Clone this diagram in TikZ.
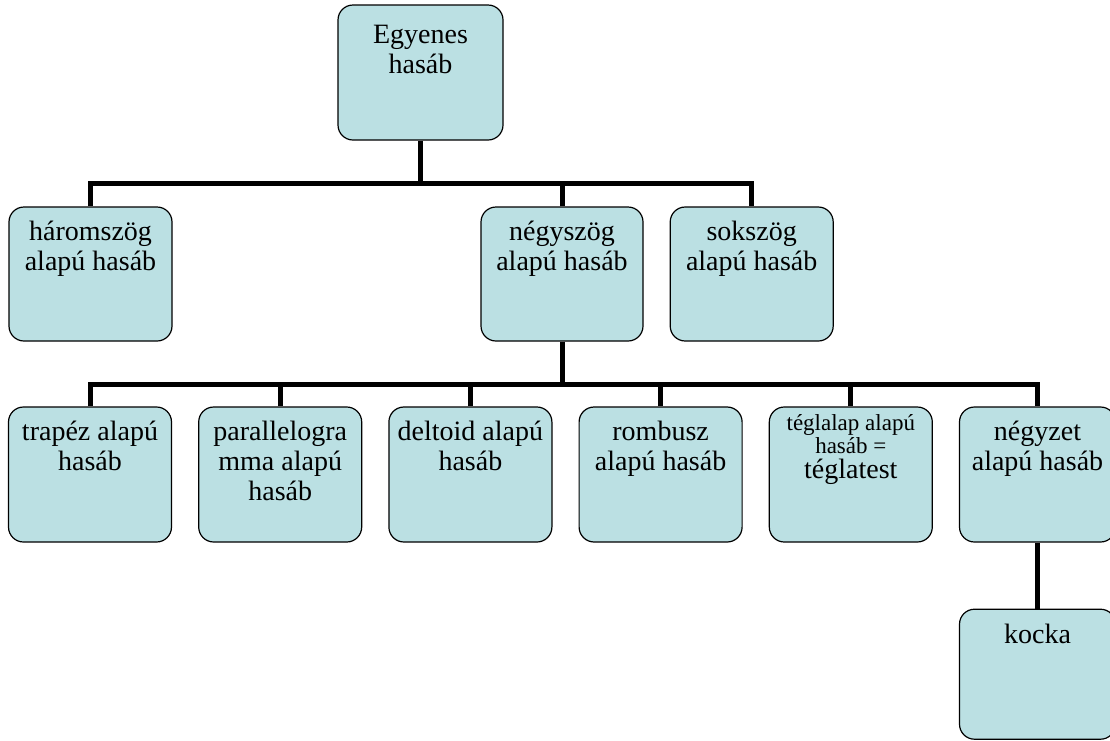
\documentclass[tikz,border=0pt]{standalone}
\usepackage{fontspec}
\setmainfont{Liberation Serif}
\usepackage{tikz}
\usetikzlibrary{positioning}
\definecolor{BoxTeal}{RGB}{187,224,227}

\begin{document}
\begin{tikzpicture}[
    x=1pt, y=-1pt,
    node distance=26pt and 26pt,
    font=\fontsize{28}{30}\selectfont,
    box/.style={draw=black, line width=1.2pt, rounded corners=15pt, fill=BoxTeal,
                minimum width=163pt, minimum height=134pt, inner sep=0pt},
    lbl/.style={anchor=north, yshift=-14pt, inner sep=0pt, align=center,
                execute at begin node=\strut},
    bus/.style={line width=5pt, line join=miter}
  ]
  \useasboundingbox (0,0) rectangle (1110,740);

  % top level
  \node[box, minimum width=165pt, minimum height=135pt,
        label={[lbl, yshift=-7pt]north:Egyenes\\hasáb}] (top) at (420.5,72.5) {};

  % second row
  \node[box, label={[lbl]north:háromszög\\alapú hasáb}] (harom) at (90.5,274) {};
  \node[box, minimum width=162pt, label={[lbl]north:négyszög\\alapú hasáb}] (negy) at (562,274) {};
  \node[box, right=of negy, label={[lbl]north:sokszög\\alapú hasáb}] (sok) {};

  % third row
  \node[box, minimum height=135pt, label={[lbl]north:trapéz alapú\\hasáb}] (trapez) at (90,474.5) {};
  \node[box, minimum height=135pt, right=of trapez,
        label={[lbl]north:parallelogra\\mma alapú\\hasáb}] (para) {};
  \node[box, minimum height=135pt, right=of para,
        label={[lbl]north:deltoid alapú\\hasáb}] (deltoid) {};
  \node[box, minimum height=135pt, right=of deltoid,
        label={[lbl]north:rombusz\\alapú hasáb}] (rombusz) {};
  \node[box, minimum height=135pt, right=of rombusz,
        label={[lbl, yshift=6pt]north:\fontsize{23}{30}\selectfont téglalap alapú\\[-7pt]\fontsize{23}{30}\selectfont hasáb =\\[-5pt]téglatest}] (teglalap) {};
  \node[box, minimum width=156pt, minimum height=135pt, right=of teglalap,
        label={[lbl]north:négyzet\\alapú hasáb}] (negyzet) {};

  % bottom
  \node[box, minimum width=156pt, minimum height=130pt, below=66pt of negyzet,
        label={[lbl]north:kocka}] (kocka) {};

  % connectors
  \coordinate (bustop) at (0,183);
  \coordinate (busmid) at (0,384);
  \draw[bus] (top.south) -- (top.south |- bustop);
  \draw[bus] (harom.north) -- (harom.north |- bustop) -- (sok.north |- bustop) -- (sok.north);
  \draw[bus] (negy.north) -- (negy.north |- bustop);
  \draw[bus] (negy.south) -- (negy.south |- busmid);
  \draw[bus] (trapez.north) -- (trapez.north |- busmid) -- (negyzet.north |- busmid) -- (negyzet.north);
  \foreach \n in {para, deltoid, rombusz, teglalap}
    \draw[bus] (\n.north) -- (\n.north |- busmid);
  \draw[bus] (negyzet.south) -- (kocka.north);
\end{tikzpicture}
\end{document}
